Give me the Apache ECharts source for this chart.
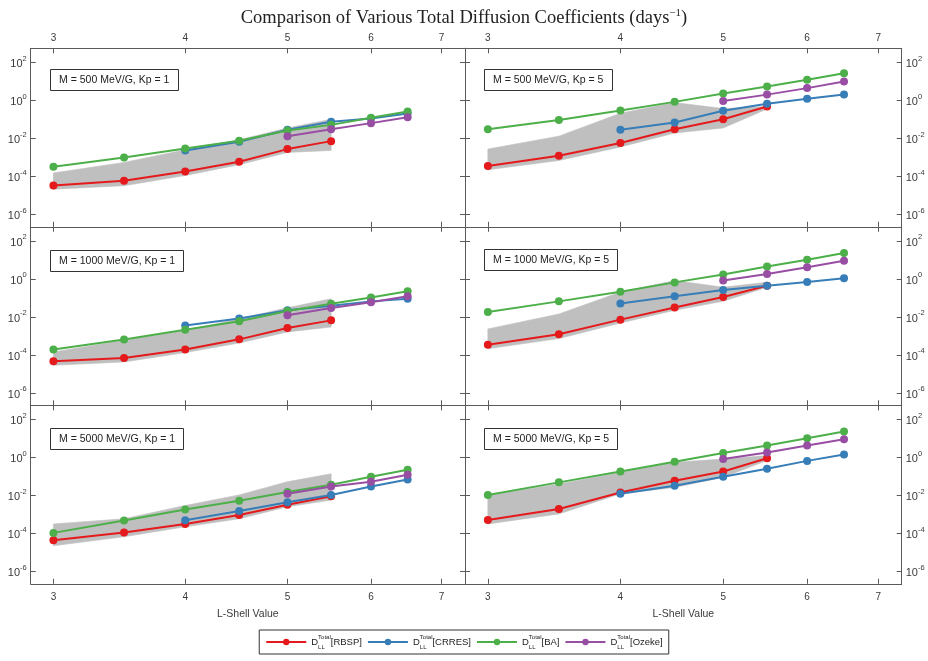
<!DOCTYPE html>
<html>
<head>
<meta charset="utf-8">
<script src="https://cdn.jsdelivr.net/npm/echarts@6/dist/echarts.min.js"></script>
<style>html,body{margin:0;padding:0;background:#fff}#c{width:928px;height:661px}</style>
</head>
<body>
<div id="c"></div>
<script>
// ---------------- DATA ----------------
const lShell = [3, 3.5, 4, 4.5, 5, 5.5, 6, 6.5];
const xTickLabels = [3, 4, 5, 6, 7];
const yTickExponents = [-6, -4, -2, 0, 2];
const panelLabels = [
  'M = 500 MeV/G, Kp = 1', 'M = 500 MeV/G, Kp = 5',
  'M = 1000 MeV/G, Kp = 1', 'M = 1000 MeV/G, Kp = 5',
  'M = 5000 MeV/G, Kp = 1', 'M = 5000 MeV/G, Kp = 5'
];
const seriesNames = ['RBSP', 'CRRES', 'BA', 'Ozeke'];
const seriesColors = ['#e41a1c', '#377eb8', '#4daf4a', '#984ea3'];
const titleText = 'Comparison of Various Total Diffusion Coefficients (days';

// values per panel, aligned with lShell (null = no value)
const rbsp = [
  [3.3e-5, 5.8e-5, 1.8e-4, 5.8e-4, 2.7e-3, 7.1e-3, null, null],
  [3.5e-4, 1.2e-3, 5.6e-3, 3.0e-2, 0.10, 0.47, null, null],
  [4.6e-5, 6.8e-5, 1.9e-4, 6.5e-4, 2.6e-3, 6.5e-3, null, null],
  [3.4e-4, 1.2e-3, 7.1e-3, 3.1e-2, 0.11, 0.43, null, null],
  [4.3e-5, 1.1e-4, 3.1e-4, 9.3e-4, 3.2e-3, 8.9e-3, null, null],
  [5.0e-4, 1.9e-3, 1.4e-2, 5.8e-2, 0.18, 0.89, null, null]
];
const crres = [
  [null, null, 2.3e-3, 6.6e-3, 2.8e-2, 7.4e-2, 0.11, 0.20],
  [null, null, 2.8e-2, 6.8e-2, 0.28, 0.66, 1.2, 2.0],
  [null, null, 3.5e-3, 8.1e-3, 2.2e-2, 3.8e-2, 6.5e-2, 8.9e-2],
  [null, null, 5.0e-2, 0.12, 0.26, 0.43, 0.69, 1.07],
  [null, null, 4.8e-4, 1.5e-3, 4.3e-3, 1.05e-2, 2.9e-2, 6.8e-2],
  [null, null, 1.2e-2, 3.2e-2, 9.5e-2, 0.25, 0.65, 1.4]
];
const ba = [
  [3.2e-4, 9.8e-4, 2.9e-3, 7.4e-3, 2.6e-2, 5.1e-2, 0.12, 0.26],
  [3.0e-2, 9.3e-2, 0.29, 0.83, 2.3, 5.4, 12, 27],
  [1.9e-4, 6.3e-4, 2.1e-3, 5.9e-3, 2.0e-2, 4.9e-2, 0.105, 0.22],
  [1.8e-2, 6.5e-2, 0.21, 0.65, 1.7, 4.5, 10, 23],
  [1.05e-4, 4.7e-4, 1.8e-3, 5.2e-3, 1.5e-2, 3.6e-2, 9.5e-2, 0.22],
  [1.05e-2, 4.8e-2, 0.18, 0.59, 1.7, 4.2, 10, 23]
];
const ozeke = [
  [null, null, null, null, 1.3e-2, 3.0e-2, 6.3e-2, 0.13],
  [null, null, null, null, 0.91, 2.0, 4.4, 9.8],
  [null, null, null, null, 1.2e-2, 2.9e-2, 5.8e-2, 0.12],
  [null, null, null, null, 0.81, 1.8, 4.1, 8.9],
  [null, null, null, null, 1.2e-2, 2.9e-2, 5.2e-2, 0.12],
  [null, null, null, null, 0.81, 1.8, 4.2, 8.9]
];
// grey range, L = 3 .. 5.5
const bandLow = [
  [2.1e-5, 3.2e-5, 1.1e-4, 4.1e-4, 1.8e-3, 2.3e-3],
  [2.2e-4, 6.8e-4, 3.5e-3, 1.9e-2, 3.5e-2, 0.35],
  [2.8e-5, 4.2e-5, 1.3e-4, 4.2e-4, 1.6e-3, 2.9e-3],
  [2.1e-4, 7.1e-4, 4.7e-3, 2.2e-2, 6.6e-2, 0.36],
  [2.2e-5, 6.6e-5, 2.2e-4, 5.8e-4, 2.5e-3, 5.6e-3],
  [3.1e-4, 1.05e-3, 1.2e-2, 2.6e-2, 8.9e-2, 0.68]
];
const bandHigh = [
  [1.5e-4, 5.4e-4, 2.5e-3, 8.3e-3, 3.5e-2, 0.10],
  [2.7e-3, 1.3e-2, 0.21, 0.76, 0.37, 0.47],
  [1.4e-4, 5.8e-4, 1.9e-3, 7.9e-3, 3.0e-2, 8.9e-2],
  [2.3e-3, 1.4e-2, 0.20, 0.81, 0.36, 0.66],
  [3.1e-4, 5.8e-4, 2.9e-3, 1.05e-2, 5.2e-2, 0.135],
  [9.8e-3, 4.0e-2, 0.16, 0.55, 0.81, 1.23]
];

// ---------------- LAYOUT ----------------
const AX = '#5a5a5a';
const LAB = '#3a3a3a';
const FONT = 'Liberation Sans, Arial, sans-serif';
const X_MIN = 1.049, X_MAX = 1.997;   // ln(L)
const Y_MIN = -6.66, Y_MAX = 2.74;    // log10(D)
const colLeft = [30.7, 465], colWidth = [434.3, 436.7];
const rowTop = [48.3, 226.8, 405.3], rowH = 178.5;
const boxPos = [[50, 69], [484, 69], [50, 250], [484, 249], [50, 428], [484, 428]];

const xTickVals = xTickLabels.map(v => Math.log(v));
const grids = [], xAxes = [], yAxes = [], series = [];
const titles = [{
  text: titleText + '{s|−1}{t|)}',
  left: 'center', top: 8, padding: 0,
  textStyle: {
    fontFamily: 'Liberation Serif, DejaVu Serif, serif', fontWeight: 'normal',
    fontSize: 18.5, color: '#222',
    rich: {
      s: {fontSize: 11, verticalAlign: 'top', lineHeight: 20, fontFamily: 'Liberation Serif, serif', color: '#222'},
      t: {fontSize: 18.5, lineHeight: 20, fontFamily: 'Liberation Serif, serif', color: '#222'}
    }
  }
}];

function bandRender(params, api) {
  const a = api.coord([api.value(0), api.value(2)]);
  const b = api.coord([api.value(0), api.value(3)]);
  const c = api.coord([api.value(1), api.value(5)]);
  const d = api.coord([api.value(1), api.value(4)]);
  return {
    type: 'polygon', shape: {points: [a, b, c, d]},
    style: {fill: '#bfbfbf', stroke: '#bfbfbf', lineWidth: 0.6}
  };
}

for (let p = 0; p < 6; p++) {
  const r = Math.floor(p / 2), c = p % 2;
  grids.push({left: colLeft[c], top: rowTop[r], width: colWidth[c], height: rowH});
  const mkX = (pos, showLab) => ({
    type: 'value', gridIndex: p, position: pos, min: X_MIN, max: X_MAX,
    axisLine: {show: true, onZero: false, lineStyle: {color: AX, width: 1}},
    axisTick: {show: true, inside: true, length: 5, customValues: xTickVals, lineStyle: {color: AX}},
    axisLabel: {show: showLab, customValues: xTickVals, margin: pos === 'top' ? 5 : 8,
      formatter: v => String(Math.round(Math.exp(v))), fontSize: 10, color: LAB, fontFamily: FONT},
    splitLine: {show: false},
    name: (pos === 'bottom' && r === 2) ? 'L-Shell Value' : '',
    nameLocation: 'middle', nameGap: 25,
    nameTextStyle: {fontSize: 10.5, color: LAB, fontFamily: FONT}
  });
  const mkY = (pos, showLab) => ({
    type: 'value', gridIndex: p, position: pos, min: Y_MIN, max: Y_MAX,
    axisLine: {show: true, onZero: false, lineStyle: {color: AX, width: 1}},
    axisTick: {show: true, inside: true, length: 5, customValues: yTickExponents, lineStyle: {color: AX}},
    axisLabel: {show: showLab, customValues: yTickExponents, margin: 4,
      formatter: v => '{b|10}{e|' + Math.round(v) + '}',
      rich: {
        b: {fontSize: 11, color: LAB, fontFamily: FONT, lineHeight: 15, verticalAlign: 'bottom'},
        e: {fontSize: 7.5, color: LAB, fontFamily: FONT, lineHeight: 15, verticalAlign: 'top'}
      }},
    splitLine: {show: false}
  });
  xAxes.push(mkX('bottom', r === 2));
  xAxes.push(mkX('top', r === 0));
  yAxes.push(mkY('left', c === 0));
  yAxes.push(mkY('right', c === 1));

  titles.push({
    text: panelLabels[p], left: boxPos[p][0], top: boxPos[p][1],
    borderColor: '#333', borderWidth: 1, padding: [6, 9, 5, 9], backgroundColor: '#fff',
    textStyle: {fontSize: 10.5, fontWeight: 'normal', color: '#222', fontFamily: FONT}
  });

  // grey band: one quadrilateral per L interval, positioned through the axes
  const segs = [];
  for (let i = 0; i < bandLow[p].length - 1; i++) {
    segs.push([
      Math.log(lShell[i]), Math.log(lShell[i + 1]),
      Math.log10(bandLow[p][i]), Math.log10(bandHigh[p][i]),
      Math.log10(bandLow[p][i + 1]), Math.log10(bandHigh[p][i + 1])
    ]);
  }
  series.push({
    name: 'band' + p, type: 'custom', xAxisIndex: 2 * p, yAxisIndex: 2 * p,
    silent: true, z: 1, renderItem: bandRender,
    encode: {x: [0, 1], y: [2, 3, 4, 5]}, data: segs
  });

  [rbsp, crres, ba, ozeke].forEach((arr, k) => {
    const pts = [];
    lShell.forEach((L, i) => { if (arr[p][i] != null) pts.push([Math.log(L), Math.log10(arr[p][i])]); });
    series.push({
      name: seriesNames[k], type: 'line', xAxisIndex: 2 * p, yAxisIndex: 2 * p,
      symbol: 'circle', symbolSize: 8, showSymbol: true,
      itemStyle: {color: seriesColors[k]}, lineStyle: {color: seriesColors[k], width: 2},
      z: 3, data: pts
    });
  });
}

const chart = echarts.init(document.getElementById('c'), null, {renderer: 'canvas'});
chart.setOption({
  animation: false,
  backgroundColor: '#fff',
  title: titles,
  grid: grids,
  xAxis: xAxes,
  yAxis: yAxes,
  legend: {
    data: seriesNames, left: 'center', top: 630,
    borderColor: '#333', borderWidth: 1, padding: [4, 6], itemGap: 5,
    itemWidth: 40, itemHeight: 8, backgroundColor: '#fff',
    formatter: n => '{d|D}{sub|LL}{sup|Total}{t|[' + n + ']}',
    textStyle: {
      color: '#222', fontFamily: FONT, fontSize: 9,
      rich: {
        d: {fontSize: 9.5, lineHeight: 16, color: '#222', fontFamily: FONT},
        sub: {fontSize: 6, lineHeight: 16, width: 0, verticalAlign: 'bottom', color: '#222', fontFamily: FONT},
        sup: {fontSize: 6, lineHeight: 16, verticalAlign: 'top', color: '#222', fontFamily: FONT},
        t: {fontSize: 9.5, lineHeight: 16, color: '#222', fontFamily: FONT}
      }
    }
  },
  series: series
});
</script>
</body>
</html>
